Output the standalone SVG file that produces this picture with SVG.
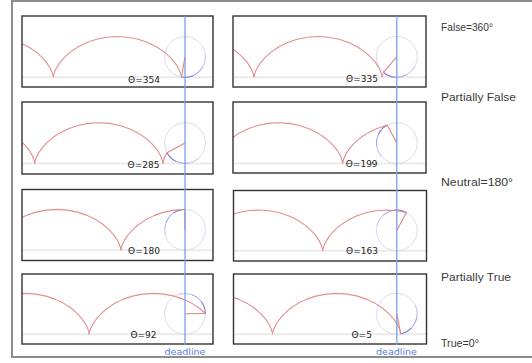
<svg xmlns="http://www.w3.org/2000/svg" xmlns:xlink="http://www.w3.org/1999/xlink" width="532" height="363" viewBox="0 0 532 363">
<style>
.frame{fill:#fff;stroke:#8c8c8c;stroke-width:2}
.panel{fill:none;stroke:#333;stroke-width:1.4}
.bg{fill:#fff}
.ground{stroke:#ebebeb;stroke-width:2}
.cyc{fill:none;stroke:#e38f8f;stroke-width:1.1;stroke-linejoin:round}
.rad{stroke:#e38484;stroke-width:1.1}
.circ{fill:none;stroke:#dadaf4;stroke-width:1}
.tr1{fill:none;stroke:#7a7ad8;stroke-width:1.1}
.tr2{fill:none;stroke:#a4a4e4;stroke-width:1}
.tr3{fill:none;stroke:#c8c8ef;stroke-width:1}
.lbl{font-family:"DejaVu Sans",Verdana,sans-serif;font-size:9px;fill:#222;text-anchor:middle}
.dl{stroke:#78a0e8;stroke-width:1.3}
.dlt{font-family:"DejaVu Sans",Verdana,sans-serif;font-size:9.5px;fill:#5580d8;text-anchor:middle}
.side{font-family:"Liberation Sans",Arial,sans-serif;font-size:10.5px;fill:#3a3a3a}
</style>
<defs>
<path id="arch" d="M0,0 L0.06,-0.70 L0.48,-2.73 L1.60,-5.98 L3.70,-10.2 L7.00,-15.12 L11.64,-20.4 L17.68,-25.68 L25.06,-30.6 L33.64,-34.82 L43.21,-38.07 L53.47,-40.10 L64.09,-40.8 L74.71,-40.10 L84.97,-38.07 L94.54,-34.82 L103.12,-30.6 L110.50,-25.68 L116.54,-20.4 L121.18,-15.12 L124.48,-10.2 L126.58,-5.98 L127.70,-2.73 L128.12,-0.70 L128.18,0"/>
<clipPath id="c1"><rect x="22" y="16" width="159.5" height="62"/></clipPath>
<clipPath id="c2"><rect x="233" y="16" width="150.4" height="62"/></clipPath>
<clipPath id="c3"><rect x="22" y="102" width="145" height="62.5"/></clipPath>
<clipPath id="c4"><rect x="233" y="102" width="154.22" height="62.5"/></clipPath>
<clipPath id="c5"><rect x="22" y="189.5" width="163" height="61.7"/></clipPath>
<clipPath id="c6"><rect x="233.5" y="190.5" width="172.88" height="61.3"/></clipPath>
<clipPath id="c7"><rect x="22" y="274" width="183.4" height="61.2"/></clipPath>
<clipPath id="c8"><rect x="233.5" y="274" width="167.19" height="61.2"/></clipPath>
</defs>
<rect class="frame" x="12" y="1" width="530" height="356"/>

<g id="panel1">
<rect class="bg" x="22" y="16" width="191" height="71"/>
<line class="ground" x1="22" y1="77.3" x2="213" y2="77.3"/>
<circle class="circ" cx="185" cy="56.9" r="20.4"/>
<path class="tr1" d="M181.46,76.99 A20.4,20.4 0 0 0 193.62,75.39"/>
<path class="tr2" d="M193.62,75.39 A20.4,20.4 0 0 0 202.67,67.1"/>
<path class="tr3" d="M202.67,67.1 A20.4,20.4 0 0 0 205.32,55.12"/>
<g clip-path="url(#c1)" class="cyc">
<use xlink:href="#arch" x="-74.92" y="77.3"/>
<use xlink:href="#arch" x="53.26" y="77.3"/>
<use xlink:href="#arch" x="181.44" y="77.3"/>
</g>
<line class="rad" x1="185" y1="56.9" x2="181.46" y2="76.99"/>
<text class="lbl" x="144" y="82.5">Θ=354</text>
<rect class="panel" x="22" y="16" width="191" height="71"/>
</g>

<g id="panel2">
<rect class="bg" x="233" y="16" width="193" height="71"/>
<line class="ground" x1="233" y1="77.3" x2="426" y2="77.3"/>
<circle class="circ" cx="396.8" cy="56.9" r="20.4"/>
<path class="tr1" d="M383.42,72.30 A20.4,20.4 0 0 0 394.67,77.19"/>
<path class="tr2" d="M394.67,77.19 A20.4,20.4 0 0 0 406.69,74.74"/>
<path class="tr3" d="M406.69,74.74 A20.4,20.4 0 0 0 415.14,65.84"/>
<g clip-path="url(#c2)" class="cyc">
<use xlink:href="#arch" x="125.84" y="77.3"/>
<use xlink:href="#arch" x="254.02" y="77.3"/>
<use xlink:href="#arch" x="382.2" y="77.3"/>
</g>
<line class="rad" x1="396.8" y1="56.9" x2="383.42" y2="72.30"/>
<text class="lbl" x="362" y="82.3">Θ=335</text>
<rect class="panel" x="233" y="16" width="193" height="71"/>
</g>

<g id="panel3">
<rect class="bg" x="22" y="102" width="191" height="72"/>
<line class="ground" x1="22" y1="163.5" x2="213" y2="163.5"/>
<circle class="circ" cx="185" cy="143.1" r="20.4"/>
<path class="tr1" d="M166.99,152.68 A20.4,20.4 0 0 0 175.74,161.28"/>
<path class="tr2" d="M175.74,161.28 A20.4,20.4 0 0 0 187.84,163.30"/>
<path class="tr3" d="M187.84,163.30 A20.4,20.4 0 0 0 198.91,158.02"/>
<g clip-path="url(#c3)" class="cyc">
<use xlink:href="#arch" x="-93.43" y="163.5"/>
<use xlink:href="#arch" x="34.75" y="163.5"/>
<use xlink:href="#arch" x="162.93" y="163.5"/>
</g>
<line class="rad" x1="185" y1="143.1" x2="166.99" y2="152.68"/>
<text class="lbl" x="143.5" y="167.7">Θ=285</text>
<rect class="panel" x="22" y="102" width="191" height="72"/>
</g>

<g id="panel4">
<rect class="bg" x="233" y="102" width="193" height="71"/>
<line class="ground" x1="233" y1="163.5" x2="426" y2="163.5"/>
<circle class="circ" cx="396.8" cy="143.1" r="20.4"/>
<path class="tr1" d="M387.22,125.09 A20.4,20.4 0 0 0 378.62,133.84"/>
<path class="tr2" d="M378.62,133.84 A20.4,20.4 0 0 0 376.60,145.94"/>
<path class="tr3" d="M376.60,145.94 A20.4,20.4 0 0 0 381.88,157.01"/>
<g clip-path="url(#c4)" class="cyc">
<use xlink:href="#arch" x="214.5" y="163.5"/>
<use xlink:href="#arch" x="342.68" y="163.5"/>
</g>
<line class="rad" x1="396.8" y1="143.1" x2="387.22" y2="125.09"/>
<text class="lbl" x="361.7" y="166.7">Θ=199</text>
<rect class="panel" x="233" y="102" width="193" height="71"/>
</g>

<g id="panel5">
<rect class="bg" x="22" y="189.5" width="191" height="71"/>
<line class="ground" x1="22" y1="250.2" x2="213" y2="250.2"/>
<circle class="circ" cx="185" cy="229.8" r="20.4"/>
<path class="tr1" d="M185,209.4 A20.4,20.4 0 0 0 173.30,213.09"/>
<path class="tr2" d="M173.30,213.09 A20.4,20.4 0 0 0 165.83,222.82"/>
<path class="tr3" d="M165.83,222.82 A20.4,20.4 0 0 0 165.30,235.08"/>
<g clip-path="url(#c5)" class="cyc">
<use xlink:href="#arch" x="-7.27" y="250.2"/>
<use xlink:href="#arch" x="120.91" y="250.2"/>
</g>
<line class="rad" x1="185" y1="229.8" x2="185" y2="209.4"/>
<text class="lbl" x="144" y="254">Θ=180</text>
<rect class="panel" x="22" y="189.5" width="191" height="71"/>
</g>

<g id="panel6">
<rect class="bg" x="233.5" y="190.5" width="193" height="70.5"/>
<line class="ground" x1="233.5" y1="250.8" x2="426.5" y2="250.8"/>
<circle class="circ" cx="396.8" cy="230.4" r="20.4"/>
<path class="tr1" d="M406.38,212.39 A20.4,20.4 0 0 0 394.31,210.15"/>
<path class="tr2" d="M394.31,210.15 A20.4,20.4 0 0 0 383.15,215.24"/>
<path class="tr3" d="M383.15,215.24 A20.4,20.4 0 0 0 376.92,225.81"/>
<g clip-path="url(#c6)" class="cyc">
<use xlink:href="#arch" x="194.56" y="250.8"/>
<use xlink:href="#arch" x="322.74" y="250.8"/>
</g>
<line class="rad" x1="396.8" y1="230.4" x2="406.38" y2="212.39"/>
<text class="lbl" x="362" y="254">Θ=163</text>
<rect class="panel" x="233.5" y="190.5" width="193" height="70.5"/>
</g>

<g id="panel7">
<rect class="bg" x="22" y="274" width="191" height="70"/>
<line class="ground" x1="22" y1="334.2" x2="213" y2="334.2"/>
<circle class="circ" cx="185" cy="313.8" r="20.4"/>
<path class="tr1" d="M205.40,313.44 A20.4,20.4 0 0 0 201.50,301.81"/>
<path class="tr2" d="M201.50,301.81 A20.4,20.4 0 0 0 191.64,294.51"/>
<path class="tr3" d="M191.64,294.51 A20.4,20.4 0 0 0 179.38,294.19"/>
<g clip-path="url(#c7)" class="cyc">
<use xlink:href="#arch" x="-38.96" y="334.2"/>
<use xlink:href="#arch" x="89.22" y="334.2"/>
</g>
<line class="rad" x1="185" y1="313.8" x2="205.40" y2="313.44"/>
<text class="lbl" x="143.5" y="337.7">Θ=92</text>
<rect class="panel" x="22" y="274" width="191" height="70"/>
</g>

<g id="panel8">
<rect class="bg" x="233.5" y="274" width="193" height="70"/>
<line class="ground" x1="233.5" y1="334.2" x2="426.5" y2="334.2"/>
<circle class="circ" cx="396.8" cy="313.8" r="20.4"/>
<path class="tr1" d="M400.69,333.82 A20.4,20.4 0 0 0 411.47,327.97"/>
<path class="tr2" d="M411.47,327.97 A20.4,20.4 0 0 0 416.95,316.99"/>
<path class="tr3" d="M416.95,316.99 A20.4,20.4 0 0 0 415.14,304.86"/>
<g clip-path="url(#c8)" class="cyc">
<use xlink:href="#arch" x="144.36" y="334.2"/>
<use xlink:href="#arch" x="272.54" y="334.2"/>
</g>
<line class="rad" x1="396.8" y1="313.8" x2="400.69" y2="333.82"/>
<text class="lbl" x="361.7" y="337.7">Θ=5</text>
<rect class="panel" x="233.5" y="274" width="193" height="70"/>
</g>

<g id="connectors">
<line class="dl" x1="185" y1="16" x2="185" y2="345"/>
<line class="dl" x1="396.8" y1="16" x2="396.8" y2="345"/>
</g>
<g id="deadline-labels">
<text class="dlt" x="185" y="354.5">deadline</text>
<text class="dlt" x="396.5" y="354.5">deadline</text>
</g>
<g id="side-labels">
<text class="side" x="441" y="31" textLength="52" lengthAdjust="spacingAndGlyphs">False=360°</text>
<text class="side" x="441" y="100.7" textLength="75" lengthAdjust="spacingAndGlyphs">Partially False</text>
<text class="side" x="441" y="185.5" textLength="72" lengthAdjust="spacingAndGlyphs">Neutral=180°</text>
<text class="side" x="441" y="281" textLength="70" lengthAdjust="spacingAndGlyphs">Partially True</text>
<text class="side" x="441" y="347" textLength="38" lengthAdjust="spacingAndGlyphs">True=0°</text>
</g>
</svg>
